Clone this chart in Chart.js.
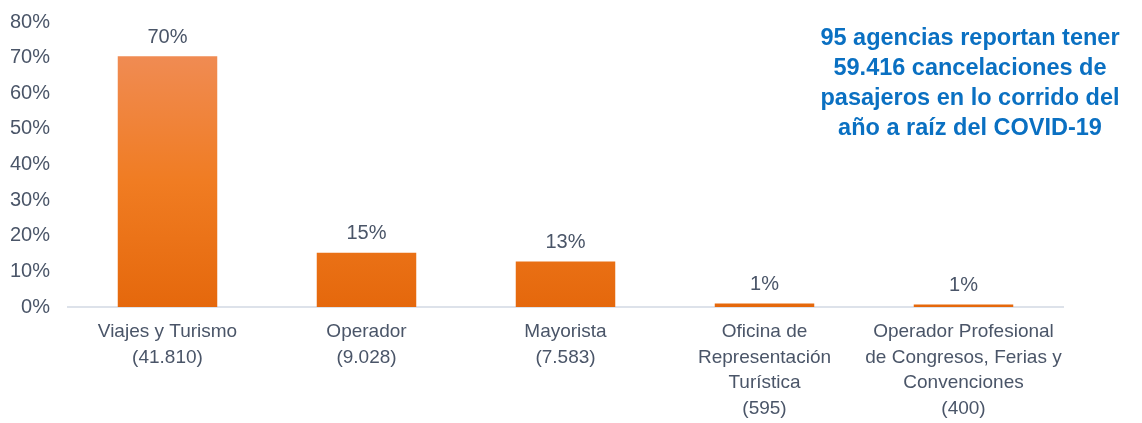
<!DOCTYPE html>
<html>
<head>
<meta charset="utf-8">
<script src="https://cdn.jsdelivr.net/npm/chart.js@4"></script>
<style>
  body { margin: 0; background: #fff; }
  #wrap { position: relative; width: 1142px; height: 423px; }
  #note {
    position: absolute; left: 790px; top: 22px; width: 360px;
    font-family: "Liberation Sans", Arial, sans-serif; font-weight: bold;
    font-size: 23.5px; line-height: 30px; color: #0a70c2; text-align: center;
  }
</style>
</head>
<body>
<div id="wrap">
  <canvas id="chart" width="1142" height="423"></canvas>
  <div id="note">95 agencias reportan tener<br>59.416 cancelaciones de<br>pasajeros en lo corrido del<br>año a raíz del COVID-19</div>
</div>
<script>
const categories = [
  ["Viajes y Turismo", "(41.810)"],
  ["Operador", "(9.028)"],
  ["Mayorista", "(7.583)"],
  ["Oficina de", "Representación", "Turística", "(595)"],
  ["Operador Profesional", "de Congresos, Ferias y", "Convenciones", "(400)"]
];
const shares = [70.4, 15.2, 12.8, 1.0, 0.7];
const shareLabels = ["70%", "15%", "13%", "1%", "1%"];

const textColor = "#4a5568";
const font = "Liberation Sans, Arial, sans-serif";

// labels above the bars
const barLabels = {
  id: "barLabels",
  afterDatasetsDraw(chart) {
    const ctx = chart.ctx;
    const meta = chart.getDatasetMeta(0);
    ctx.save();
    ctx.font = "20px " + font;
    ctx.fillStyle = textColor;
    ctx.textAlign = "center";
    ctx.textBaseline = "bottom";
    meta.data.forEach((bar, i) => {
      ctx.fillText(shareLabels[i], bar.x, bar.y - 9);
    });
    ctx.restore();
  }
};

const ctx = document.getElementById("chart").getContext("2d");
new Chart(ctx, {
  type: "bar",
  data: {
    labels: categories,
    datasets: [{
      data: shares,
      backgroundColor: (c) => {
        const area = c.chart.chartArea;
        if (!area) return "#ee7a2c";
        const g = c.chart.ctx.createLinearGradient(0, c.chart.scales.y.getPixelForValue(70), 0, area.bottom);
        g.addColorStop(0, "#f08b52");
        g.addColorStop(0.5, "#f07c22");
        g.addColorStop(1, "#e5680c");
        return g;
      },
      barPercentage: 0.5,
      categoryPercentage: 1
    }]
  },
  options: {
    responsive: false,
    animation: false,
    layout: { padding: { top: 15, right: 79, left: 0, bottom: 0 } },
    plugins: { legend: { display: false }, tooltip: { enabled: false } },
    scales: {
      x: {
        grid: { display: false },
        border: { color: "#dde2ea", width: 2 },
        ticks: { color: textColor, font: { family: font, size: 19, lineHeight: 1.35 }, padding: 4, maxRotation: 0, autoSkip: false },
        afterFit: (s) => { s.height = 116; }
      },
      y: {
        min: 0, max: 80,
        grid: { display: false },
        border: { display: false },
        ticks: {
          stepSize: 10,
          color: textColor,
          font: { family: font, size: 20 },
          padding: 10,
          callback: (v) => v + "%"
        },
        afterFit: (s) => { s.width = 68; }
      }
    }
  },
  plugins: [barLabels]
});
</script>
</body>
</html>
